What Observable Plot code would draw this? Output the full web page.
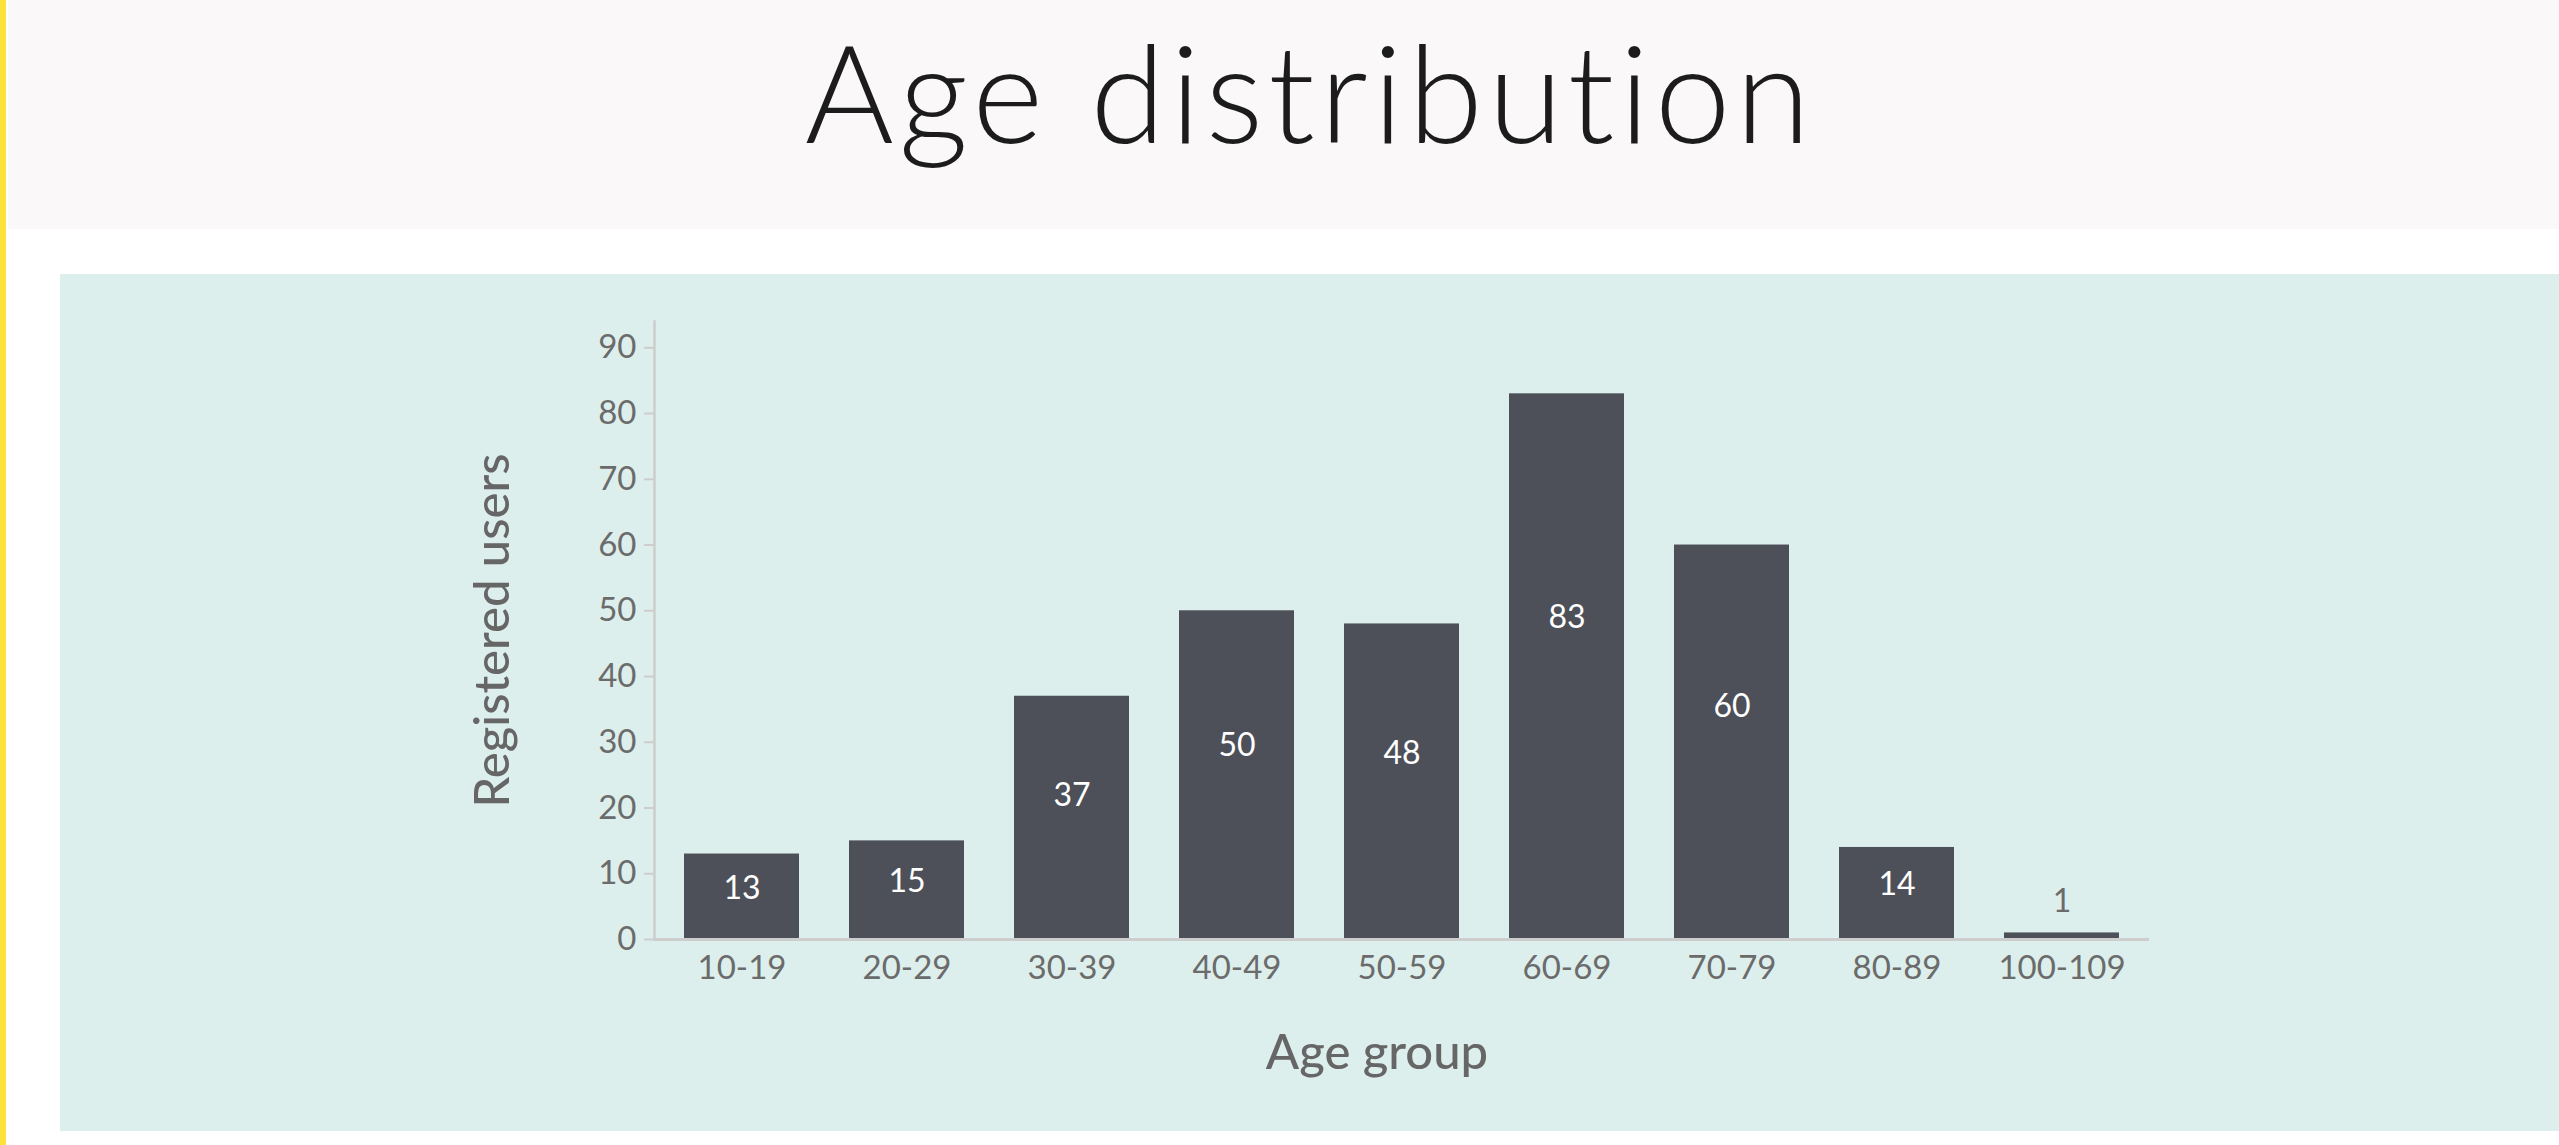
<!DOCTYPE html>
<html><head><meta charset="utf-8">
<script src="https://cdn.jsdelivr.net/npm/d3@7"></script>
<script src="https://cdn.jsdelivr.net/npm/@observablehq/plot@0.6"></script>
<style>
html,body{margin:0;padding:0;background:#fff;width:2559px;height:1145px;overflow:hidden;font-family:Lato,"Noto Sans",sans-serif;}
#ybar{position:absolute;left:0;top:0;width:6px;height:1145px;background:#fde23c;}
#head{position:absolute;left:8px;top:0;width:2551px;height:229px;background:#faf8f9;}
#title{position:absolute;left:0;top:23px;width:2620px;text-align:center;font-size:136px;font-weight:300;color:#1c1c1c;line-height:1;white-space:nowrap;letter-spacing:5px;}
#panel{position:absolute;left:60px;top:274px;width:2499px;height:857px;background:#ddefec;}
#panel svg{display:block;}
</style>
</head><body>
<div id="ybar"></div>
<div id="head"></div>
<div id="title">Age distribution</div>
<div id="panel"></div>
<script>
const groups = ["10-19","20-29","30-39","40-49","50-59","60-69","70-79","80-89","100-109"];
const users = [13,15,37,50,48,83,60,14,1];
const yTicks = [0,10,20,30,40,50,60,70,80,90];
const yTitle = "Registered users";
const xTitle = "Age group";

const data = groups.map((g,i)=>({group:g, users:users[i]}));
const inside = data.filter(d=>d.users>=5);
const above = data.filter(d=>d.users<5);
const axisGray = "#cdcdcd";
const textGray = "#6b6b6b";

const chart = Plot.plot({
  width:2499, height:857,
  marginLeft:594, marginRight:410, marginTop:47, marginBottom:192,
  style:{background:"transparent", fontFamily:"Lato, 'Noto Sans', sans-serif", fontSize:"32px", color:textGray, overflow:"visible"},
  x:{domain:groups, paddingInner:0.3, paddingOuter:0.17, label:null},
  y:{domain:[0,94], label:null},
  marks:[
    Plot.barY(data,{x:"group", y:"users", fill:"#4d5058"}),
    Plot.frame({anchor:"left", stroke:axisGray, strokeWidth:2.5}),
    Plot.ruleY([0], {stroke:axisGray, strokeWidth:3}),
    Plot.axisY({ticks:yTicks, tickSize:10, tickPadding:8, stroke:axisGray, strokeWidth:2, fill:textGray, fontSize:33, label:null}),
    Plot.axisX({tickSize:0, tickPadding:16, fill:textGray, fontSize:33, label:null}),
    Plot.text(inside, {x:"group", y:d=>d.users*0.59, text:d=>String(d.users), fill:"white", fontSize:32}),
    Plot.text(above, {x:"group", y:"users", text:d=>String(d.users), fill:textGray, fontSize:32, dy:-31}),
    Plot.text([yTitle], {text:d=>d, frameAnchor:"left", textAnchor:"middle", lineAnchor:"middle", dx:-161, rotate:-90, fontSize:49, fontWeight:500, fill:"#666666"}),
    Plot.text([xTitle], {text:d=>d, frameAnchor:"bottom", textAnchor:"middle", lineAnchor:"middle", dx:-25, dy:114, fontSize:49, fontWeight:500, fill:"#666666"})
  ]
});
document.getElementById("panel").appendChild(chart);
</script>
</body></html>
